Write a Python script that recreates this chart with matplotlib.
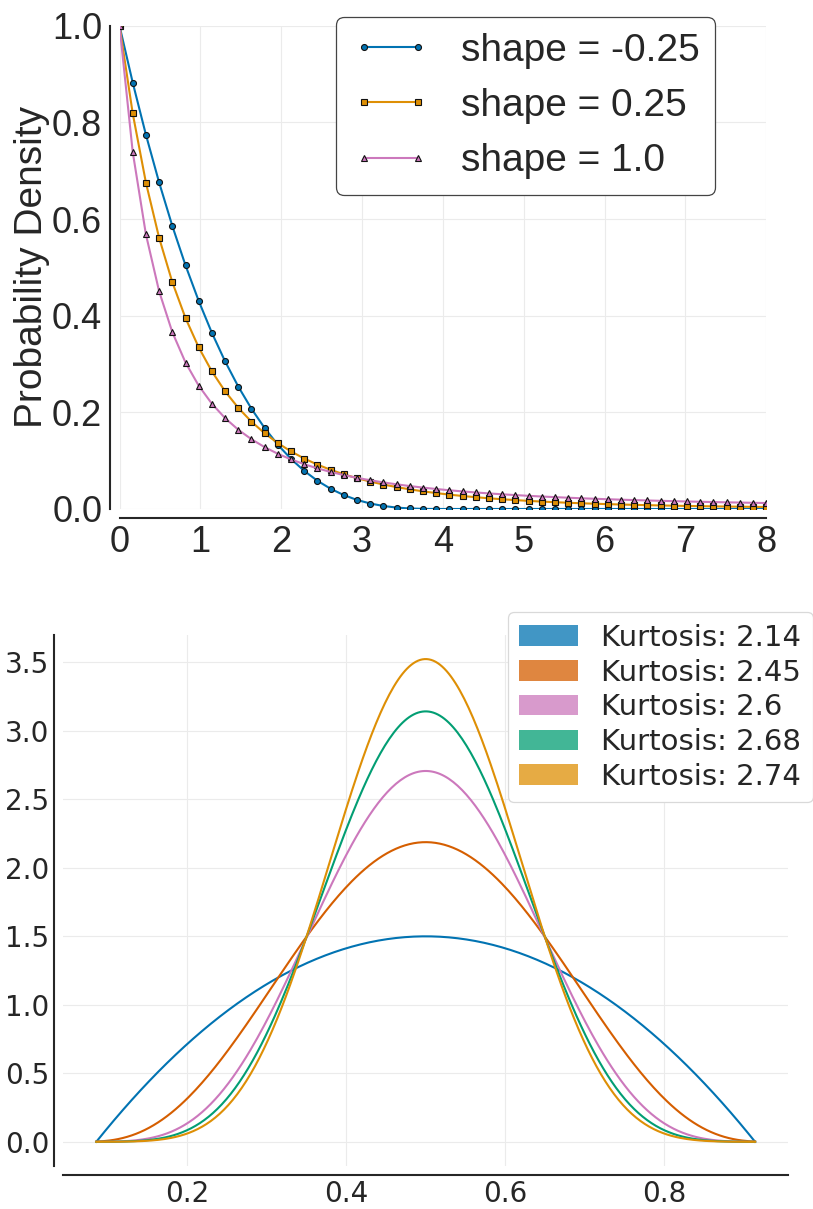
import numpy as np
import matplotlib
matplotlib.use('Agg')
import matplotlib.pyplot as plt
from matplotlib.patches import Patch
from math import lgamma, exp

# ---------------- data ----------------
# Top panel: generalized Pareto densities (scale 1, loc 0)
shapes = [-0.25, 0.25, 1.0]
shape_labels = ['shape = -0.25', 'shape = 0.25', 'shape = 1.0']
x_top_start, x_top_end, n_top = 0.0, 8.0, 50
top_colors = ['#0173B2', '#DE8F05', '#CC78BC']
top_markers = ['o', 's', '^']
top_xticks = [0, 1, 2, 3, 4, 5, 6, 7, 8]
top_yticks = [0.0, 0.2, 0.4, 0.6, 0.8, 1.0]

# Bottom panel: symmetric beta-shaped densities Beta(a, a),
# each stretched horizontally by its own width
beta_params = [2, 4, 6, 8, 10]
beta_widths = [0.8284, 0.870, 0.893, 0.945, 0.995]
kurtosis_labels = ['Kurtosis: 2.14', 'Kurtosis: 2.45', 'Kurtosis: 2.6',
                   'Kurtosis: 2.68', 'Kurtosis: 2.74']
x_bot_start, x_bot_end, n_bot = 0.0858, 0.9142, 300
bot_colors = ['#0173B2', '#D55E00', '#CC78BC', '#029E73', '#DE8F05']

TEXT = '#262626'
GRID = '#ebebeb'


def gpd_pdf(x, xi):
    z = 1.0 + xi * x
    out = np.zeros_like(x)
    ok = z > 0
    out[ok] = z[ok] ** (-1.0 / xi - 1.0)
    return out


def beta_shape(x, a, w):
    t = np.clip(0.5 + (x - 0.5) / w, 0.0, 1.0)
    logB = 2 * lgamma(a) - lgamma(2 * a)
    return t ** (a - 1) * (1 - t) ** (a - 1) / exp(logB)


fig = plt.figure(figsize=(8.13, 12.09), dpi=100)

# ---------------- top panel ----------------
ax1 = fig.add_axes([0.147, 0.579, 0.7955, 0.3997])
xt = np.linspace(x_top_start, x_top_end, n_top)
handles = []
for xi, lab, c, m in zip(shapes, shape_labels, top_colors, top_markers):
    h, = ax1.plot(xt, gpd_pdf(xt, xi), color=c, lw=1.5, marker=m,
                  markersize=4.3, markerfacecolor=c, markeredgecolor='#111111',
                  markeredgewidth=0.8, label=lab)
    handles.append(h)
ax1.set_xlim(0, 8)
ax1.set_ylim(0, 1)
ax1.set_xticks(top_xticks)
ax1.set_yticks(top_yticks)
ax1.set_yticklabels([f'{v:.1f}' for v in top_yticks])
for sp in ['top', 'right']:
    ax1.spines[sp].set_visible(False)
for sp in ['left', 'bottom']:
    ax1.spines[sp].set_position(('outward', 6.5))
    ax1.spines[sp].set_linewidth(1.5)
    ax1.spines[sp].set_color(TEXT)
ax1.spines['left'].set_bounds(0, 1)
ax1.spines['bottom'].set_bounds(0, 8)
ax1.grid(True, color=GRID, lw=0.8)
ax1.set_axisbelow(True)
ax1.tick_params(axis='both', length=0, labelsize=26, labelcolor=TEXT)
ax1.tick_params(axis='x', pad=5)
ax1.tick_params(axis='y', pad=6)
for lbl in ax1.get_xticklabels() + ax1.get_yticklabels():
    lbl.set_family('Liberation Sans')
ax1.set_ylabel('Probability Density', fontsize=28, color=TEXT,
               family='Liberation Sans')
ax1.yaxis.set_label_coords(-0.107, 0.5)
leg1 = ax1.legend(handles=handles, loc='upper right',
                  bbox_to_anchor=(0.921, 1.018), borderaxespad=0,
                  numpoints=2, fancybox=True, framealpha=1,
                  prop={'family': 'Liberation Sans', 'size': 28})
leg1.get_frame().set_edgecolor('#444444')
leg1.get_frame().set_linewidth(0.9)
for t in leg1.get_texts():
    t.set_color(TEXT)

# ---------------- bottom panel ----------------
ax2 = fig.add_axes([0.0779, 0.0356, 0.8914, 0.4392])
xb = np.linspace(x_bot_start, x_bot_end, n_bot)
for a, w, c in zip(beta_params, beta_widths, bot_colors):
    ax2.plot(xb, beta_shape(xb, a, w), color=c, lw=1.5)
for sp in ['top', 'right']:
    ax2.spines[sp].set_visible(False)
for sp in ['left', 'bottom']:
    ax2.spines[sp].set_position(('outward', 6.5))
    ax2.spines[sp].set_linewidth(1.5)
    ax2.spines[sp].set_color(TEXT)
ax2.grid(True, color=GRID, lw=0.8)
ax2.set_axisbelow(True)
ax2.tick_params(axis='both', length=0, labelsize=20, labelcolor=TEXT, pad=3.5)
patches = [Patch(facecolor=c, alpha=0.75, label=l)
           for c, l in zip(bot_colors, kurtosis_labels)]
leg2 = ax2.legend(handles=patches, loc='upper right',
                  bbox_to_anchor=(1.034, 1.043), borderaxespad=0,
                  fontsize=21, fancybox=True, framealpha=1,
                  labelspacing=0.23)
leg2.get_frame().set_edgecolor('#d9d9d9')
leg2.get_frame().set_linewidth(0.9)
for t in leg2.get_texts():
    t.set_color(TEXT)

fig.savefig('out.png', dpi=100)
